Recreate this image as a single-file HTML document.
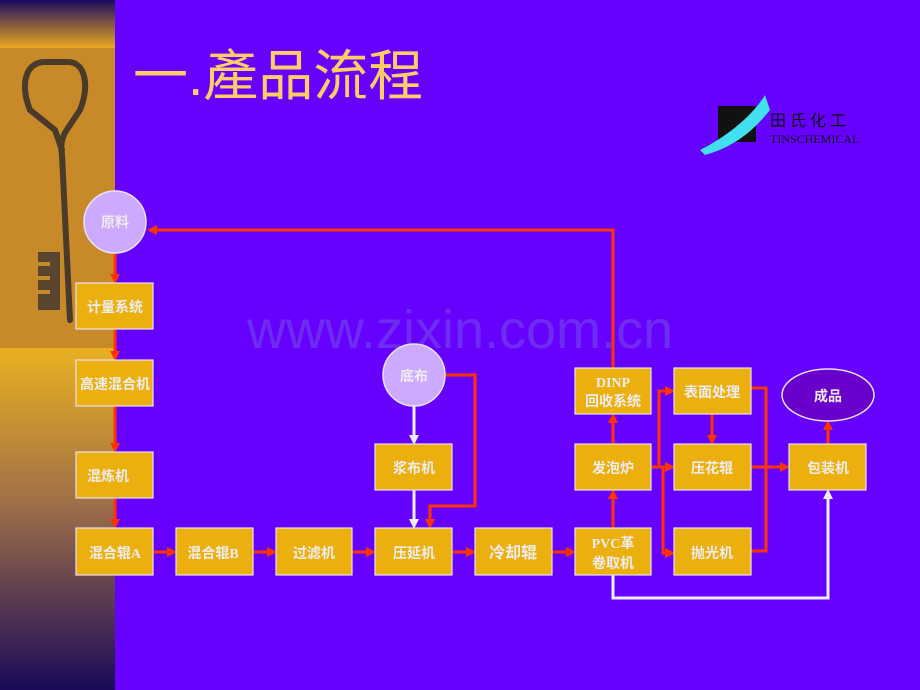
<!DOCTYPE html>
<html><head><meta charset="utf-8"><style>
body{margin:0;width:920px;height:690px;overflow:hidden;background:#6600ff;}
svg{display:block}
</style></head><body>
<svg width="920" height="690" viewBox="0 0 920 690" xmlns="http://www.w3.org/2000/svg" font-family="Liberation Serif,'Noto Sans CJK SC',sans-serif">
<defs>
<linearGradient id="gt" x1="0" y1="0" x2="0" y2="1"><stop offset="0" stop-color="#1a0a60"/><stop offset="1" stop-color="#e8a820"/></linearGradient>
<linearGradient id="gb" x1="0" y1="0" x2="0" y2="1"><stop offset="0" stop-color="#eab020"/><stop offset="0.45" stop-color="#a07048"/><stop offset="1" stop-color="#1a0a58"/></linearGradient>
<marker id="ar" markerWidth="10" markerHeight="10" refX="7" refY="5" orient="auto" markerUnits="userSpaceOnUse"><path d="M0,0 L10,5 L0,10z" fill="#ff3300"/></marker>
<marker id="aw" markerWidth="10" markerHeight="10" refX="7" refY="5" orient="auto" markerUnits="userSpaceOnUse"><path d="M0,0 L10,5 L0,10z" fill="#eeeeff"/></marker>
</defs>
<rect x="0" y="0" width="115" height="48" fill="url(#gt)"/>
<rect x="0" y="48" width="115" height="300" fill="#c88a28"/>
<rect x="0" y="348" width="115" height="342" fill="url(#gb)"/>
<g fill="none" stroke="#4a3a2a" stroke-width="6" stroke-linecap="round">
<path d="M30,110 C20,85 25,62 45,62 L68,62 C85,62 90,85 80,110 L68,128 C62,136 60,145 62,155 L70,320"/>
<path d="M30,110 L55,130 L62,150"/>
</g>
<rect x="38" y="252" width="22" height="58" fill="#5a4530"/>
<g fill="#c88a28"><rect x="38" y="262" width="12" height="4"/><rect x="38" y="276" width="12" height="4"/><rect x="38" y="290" width="12" height="4"/></g>
<text x="133" y="95" font-size="55" fill="#ffcc66" font-family="Liberation Sans,'Noto Sans CJK TC',sans-serif">一.產品流程</text>
<rect x="718" y="106" width="38" height="36" fill="#111"/>
<path d="M700,150 C720,140 750,120 765,95 L770,110 C750,135 730,148 705,155z" fill="#40e0f0"/>
<text x="770" y="126" font-size="16" fill="#111">田 氏 化 工</text>
<text x="770" y="143" font-size="12" fill="#111">TINSCHEMICAL</text>
<text x="460" y="348" font-size="54" fill="#6e2cf0" text-anchor="middle" font-family="Liberation Sans,sans-serif">www.zixin.com.cn</text>
<g stroke="#ff3300" stroke-width="3" fill="none">
<path d="M613,368 L613,230 L150,230" marker-end="url(#ar)"/>
<path d="M115,253 L115,281" marker-end="url(#ar)"/>
<path d="M115,329 L115,358" marker-end="url(#ar)"/>
<path d="M115,406 L115,450" marker-end="url(#ar)"/>
<path d="M115,498 L115,526" marker-end="url(#ar)"/>
<path d="M153,552 L174,552" marker-end="url(#ar)"/>
<path d="M253,552 L274,552" marker-end="url(#ar)"/>
<path d="M352,552 L373,552" marker-end="url(#ar)"/>
<path d="M452,552 L473,552" marker-end="url(#ar)"/>
<path d="M552,552 L573,552" marker-end="url(#ar)"/>
<path d="M445,375 L475,375 L475,506 L430,506 L430,526" marker-end="url(#ar)"/>
<path d="M613,528 L613,492" marker-end="url(#ar)"/>
<path d="M613,444 L613,416" marker-end="url(#ar)"/>
<path d="M651,467 L659,467 L659,391 L672,391" marker-end="url(#ar)"/>
<path d="M651,467 L672,467" marker-end="url(#ar)"/>
<path d="M663,467 L663,553 L672,553" marker-end="url(#ar)"/>
<path d="M712,414 L712,442" marker-end="url(#ar)"/>
<path d="M751,388 L766,388 L766,551 L751,551"/>
<path d="M751,467 L787,467" marker-end="url(#ar)"/>
<path d="M828,444 L828,423" marker-end="url(#ar)"/>
</g>
<g stroke="#eeeeff" stroke-width="3" fill="none">
<path d="M414,406 L414,442" marker-end="url(#aw)"/>
<path d="M414,490 L414,526" marker-end="url(#aw)"/>
<path d="M613,575 L613,598 L828,598 L828,492" marker-end="url(#aw)"/>
</g>
<g fill="#ccaaff" stroke="#e8e0ff" stroke-width="1.5">
<circle cx="115" cy="222" r="31"/><circle cx="414" cy="375" r="31"/>
</g>
<ellipse cx="828" cy="395" rx="46" ry="26" fill="#6a00cc" stroke="#e8e0ff" stroke-width="1.5"/>
<g fill="#ecb00e" stroke="#e8e0f0" stroke-width="1.2">
<rect x="76" y="283" width="77" height="46"/><rect x="76" y="360" width="77" height="46"/>
<rect x="76" y="452" width="77" height="46"/><rect x="76" y="528" width="77" height="47"/>
<rect x="176" y="528" width="77" height="47"/><rect x="276" y="528" width="76" height="47"/>
<rect x="375" y="528" width="77" height="47"/><rect x="475" y="528" width="77" height="47"/>
<rect x="575" y="528" width="76" height="47"/><rect x="375" y="444" width="77" height="46"/>
<rect x="575" y="444" width="76" height="46"/><rect x="575" y="368" width="76" height="46"/>
<rect x="674" y="368" width="77" height="46"/><rect x="674" y="444" width="77" height="46"/>
<rect x="674" y="528" width="77" height="47"/><rect x="789" y="444" width="77" height="46"/>
</g>
<g fill="#f0ecf0" font-size="14" text-anchor="middle" font-weight="bold">
<text x="115" y="227">原料</text><text x="414" y="381">底布</text>
<text x="828" y="401">成品</text>
<text x="115" y="312">计量系统</text><text x="115" y="389">高速混合机</text>
<text x="108" y="481">混炼机</text><text x="115" y="558">混合辊A</text>
<text x="213" y="558">混合辊B</text><text x="314" y="558">过滤机</text>
<text x="414" y="558">压延机</text><text x="513" y="558" font-size="16">冷却辊</text>
<text x="613" y="548">PVC革</text><text x="613" y="568">卷取机</text>
<text x="414" y="473">浆布机</text><text x="613" y="473">发泡炉</text>
<text x="613" y="387">DINP</text><text x="613" y="406">回收系统</text>
<text x="712" y="397">表面处理</text><text x="712" y="473">压花辊</text>
<text x="712" y="558">抛光机</text><text x="828" y="473">包装机</text>
</g>
</svg>
</body></html>
